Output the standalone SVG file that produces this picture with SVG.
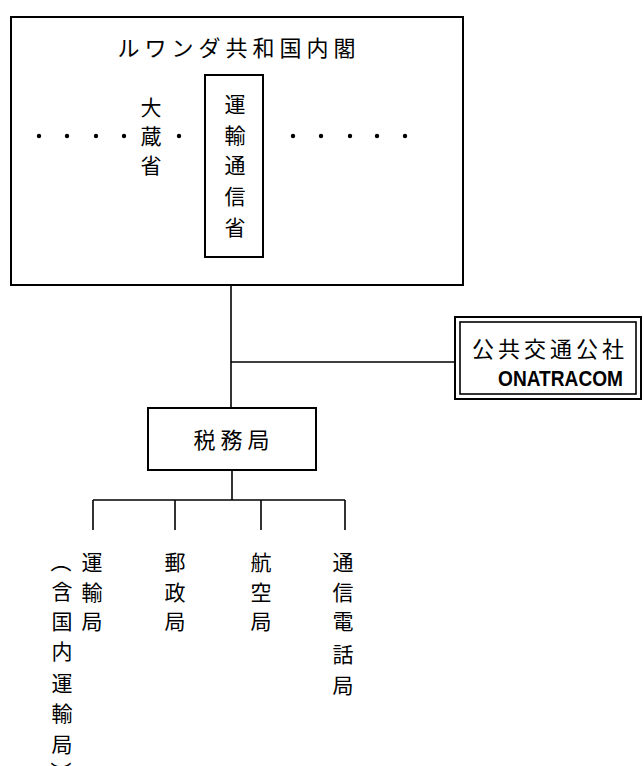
<svg xmlns="http://www.w3.org/2000/svg" width="644" height="766" viewBox="0 0 644 766">
<style>
.t{font-family:"Noto Sans CJK JP","Noto Sans CJK SC",sans-serif;font-size:22px;fill:#000;text-anchor:middle}
.v{font-family:"Noto Sans CJK JP","Noto Sans CJK SC",sans-serif;font-size:21px;fill:#000;text-anchor:middle}
.p{font-family:"Noto Sans CJK JP","Noto Sans CJK SC",sans-serif;font-size:21px;fill:#000;text-anchor:middle;dominant-baseline:central}
.box{fill:none;stroke:#000;stroke-width:2}
.ln{fill:none;stroke:#000;stroke-width:1.6}
.en{font-family:"Liberation Sans",sans-serif;font-size:22px;font-weight:bold;fill:#000}
</style>
<rect width="644" height="766" fill="#fff"/>
<g id="cabinet">
<rect class="box" x="11" y="17" width="452" height="268"/>
<text class="t" x="239" y="56" style="letter-spacing:5px">ルワンダ共和国内閣</text>
<g id="dots" fill="#000">
<circle cx="39" cy="136" r="2.2"/><circle cx="67" cy="136" r="2.2"/><circle cx="96" cy="136" r="2.2"/><circle cx="124" cy="136" r="2.2"/><circle cx="179" cy="136" r="2.2"/>
<circle cx="293" cy="136" r="2.2"/><circle cx="321" cy="136" r="2.2"/><circle cx="350" cy="136" r="2.2"/><circle cx="377" cy="136" r="2.2"/><circle cx="405" cy="136" r="2.2"/>
</g>
</g>
<g id="mof">
<text class="v" x="151" y="115">大</text>
<text class="v" x="151" y="144">蔵</text>
<text class="v" x="151" y="173">省</text>
</g>
<g id="motc">
<rect class="box" x="205" y="75" width="58" height="182"/>
<text class="v" x="235" y="112">運</text>
<text class="v" x="235" y="143">輸</text>
<text class="v" x="235" y="173">通</text>
<text class="v" x="235" y="204">信</text>
<text class="v" x="235" y="235">省</text>
</g>
<g id="connectors">
<path class="ln" d="M231 285 V408"/>
<path class="ln" d="M231 362 H455"/>
<path class="ln" d="M232 470 V500"/>
<path class="ln" d="M93 500 H345"/>
<path class="ln" d="M93 500 V530 M175 500 V530 M261 500 V530 M345 500 V530"/>
</g>
<g id="onatracom">
<rect class="box" x="455" y="317" width="186" height="82"/>
<rect class="ln" x="460" y="322" width="176" height="72"/>
<text class="t" x="550" y="357" style="letter-spacing:4px">公共交通公社</text>
<text class="en" x="498" y="386" textLength="125" lengthAdjust="spacingAndGlyphs">ONATRACOM</text>
</g>
<g id="tax">
<rect class="box" x="148" y="408" width="168" height="62"/>
<text class="t" x="234" y="448" style="letter-spacing:5px">税務局</text>
</g>
<g id="transport">
<text class="v" x="92" y="570">運</text>
<text class="v" x="92" y="600">輸</text>
<text class="v" x="92" y="629">局</text>
<text class="p" transform="translate(62,562) rotate(90)">（</text>
<text class="v" x="62" y="599">含</text>
<text class="v" x="62" y="629">国</text>
<text class="v" x="62" y="659">内</text>
<text class="v" x="62" y="691">運</text>
<text class="v" x="62" y="721">輸</text>
<text class="v" x="62" y="752">局</text>
<text class="p" transform="translate(62,772) rotate(90)">）</text>
</g>
<g id="postal">
<text class="v" x="175" y="570">郵</text>
<text class="v" x="175" y="600">政</text>
<text class="v" x="175" y="629">局</text>
</g>
<g id="aviation">
<text class="v" x="261" y="570">航</text>
<text class="v" x="261" y="600">空</text>
<text class="v" x="261" y="629">局</text>
</g>
<g id="telecom">
<text class="v" x="343" y="570">通</text>
<text class="v" x="343" y="600">信</text>
<text class="v" x="343" y="629">電</text>
<text class="v" x="343" y="662">話</text>
<text class="v" x="343" y="693">局</text>
</g>
</svg>
